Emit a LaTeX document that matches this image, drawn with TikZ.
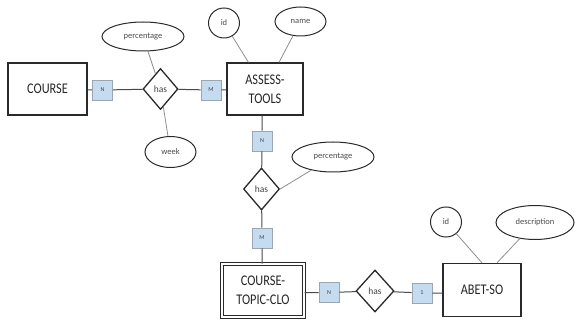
\documentclass[tikz,border=0pt]{standalone}
\usepackage{fontspec}
\setmainfont{Carlito}
\usetikzlibrary{shapes.geometric,calc}
\definecolor{cardfill}{HTML}{C5DCF0}
\definecolor{cardline}{HTML}{9AA6B2}
\definecolor{inkline}{HTML}{2A2A2A}
\definecolor{attrline}{HTML}{8E8E8E}
\newcommand{\tallt}[1]{\scalebox{1}[1.2]{#1}}
\tikzset{
  entity/.style={draw=inkline, line width=1.3pt, rectangle, inner sep=0pt,
    align=center, text=black!85, font=\fontsize{12.3}{19}\selectfont},
  weakentity/.style={entity, double=white, double distance=2.2pt, line width=1pt},
  attr/.style={draw=inkline, line width=1pt, ellipse, inner sep=0pt,
    text=black!70, font=\fontsize{8.5}{10}\selectfont},
  rel/.style={draw=inkline, line width=1.3pt, diamond, inner sep=0pt,
    text=black!75, font=\fontsize{9.5}{11}\selectfont},
  card/.style={draw=cardline, fill=cardfill, line width=0.6pt, rectangle,
    minimum width=20pt, minimum height=20pt, inner sep=0pt,
    text=black!75, font=\fontsize{6}{7}\selectfont},
  link/.style={draw=inkline!85, line width=1pt},
  attrlink/.style={draw=attrline, line width=0.8pt},
}
\begin{document}
\begin{tikzpicture}[x=1pt, y=-1pt]
\useasboundingbox (0,0) rectangle (575,320);

% entities
\node[entity, minimum width=79pt, minimum height=52pt] (course) at (47.5,89) {\tallt{COURSE}};
\node[entity, minimum width=76pt, minimum height=52pt] (tools) at (265,89) {\tallt{ASSESS-}\\\tallt{TOOLS}};
\node[weakentity, minimum width=82pt, minimum height=53pt] (clo) at (263,290.5) {\tallt{COURSE-}\\\tallt{TOPIC-CLO}};
\node[entity, minimum width=78pt, minimum height=53pt] (abet) at (482,290) {\tallt{ABET-SO}};

% relationships
\node[rel, minimum width=35pt, minimum height=41pt] (has1) at (160.5,89) {has};
\node[rel, minimum width=36pt, minimum height=42pt] (has2) at (261.5,189) {has};
\node[rel, minimum width=38pt, minimum height=42pt] (has3) at (375,291) {has};

% attributes
\node[attr, minimum width=82pt, minimum height=29pt] (pct1) at (143,36.5) {percentage};
\node[attr, minimum width=51pt, minimum height=31pt] (week) at (170.5,152) {week};
\node[attr, minimum width=31pt, minimum height=30pt] (id1) at (224,23) {id};
\node[attr, minimum width=51pt, minimum height=29pt] (name) at (300.5,21.5) {name};
\node[attr, minimum width=82pt, minimum height=30pt] (pct2) at (333,157) {percentage};
\node[attr, minimum width=31pt, minimum height=30pt] (id2) at (446,222) {id};
\node[attr, minimum width=78pt, minimum height=34pt] (desc) at (535,222.5) {description};

% cardinalities
\node[card] (n1) at (102.5,90) {N};
\node[card] (m1) at (211,90) {M};
\node[card] (n2) at (262,141) {N};
\node[card] (m2) at (262,238) {M};
\node[card] (n3) at (329,292.5) {N};
\node[card] (one) at (422,293) {1};

% relationship connectors
\draw[link] (course.east |- n1) -- (n1) -- (has1);
\draw[link] (has1) -- (m1) -- (tools.west |- m1);
\draw[link] (n2 |- tools.south) -- (n2) -- (has2);
\draw[link] (has2) -- (m2) -- (m2 |- clo.north);
\draw[link] (clo.east |- n3) -- (n3) -- (has3);
\draw[link] (has3) -- (one) -- (abet.west |- one);

% attribute connectors
\draw[attrlink] (pct1) -- (has1);
\draw[attrlink] (week) -- (has1);
\draw[attrlink] (id1) -- (tools);
\draw[attrlink] (name) -- (tools);
\draw[attrlink] (has2.east) -- (pct2);
\draw[attrlink] (id2) -- (abet.north);
\draw[attrlink] (desc) -- ([xshift=15pt]abet.north);
\end{tikzpicture}
\end{document}
